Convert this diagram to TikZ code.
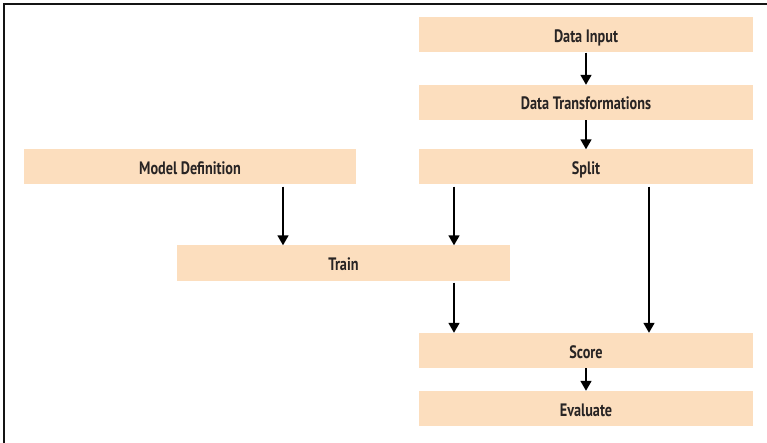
\documentclass[tikz,border=0pt]{standalone}
\usepackage{fontspec}
\setmainfont[FakeStretch=0.79]{PT Sans}
\usetikzlibrary{arrows.meta}
\definecolor{peach}{RGB}{252,222,190}
\definecolor{txt}{RGB}{40,36,36}
\tikzset{
  blk/.style={fill=peach, draw=none, minimum height=35pt, inner sep=0pt, text=txt,
    text height=12pt, text depth=0pt, font=\fontsize{18}{20}\selectfont\bfseries},
  arr/.style={line width=1.7pt, -{Triangle[width=11pt,length=10pt]}, black},
  frame/.style={line width=2.2pt, black!92}
}
\begin{document}
\begin{tikzpicture}[x=1pt,y=-1pt]
\useasboundingbox (0,0) rectangle (767,443);
\draw[frame] (4,443) -- (4,4) -- (767,4);
\node[blk, minimum width=334pt] (din) at (586,35) {\raisebox{-1.5pt}{Data Input}};
\node[blk, minimum width=334pt] (dt) at (586,102.5) {\raisebox{-1.5pt}{Data Transformations}};
\node[blk, minimum width=334pt] (split) at (586,167) {\raisebox{-1.5pt}{Split}};
\node[blk, minimum width=332pt] (model) at (190,167) {\raisebox{-1.5pt}{Model Definition}};
\node[blk, minimum width=333pt] (train) at (343.5,263) {\raisebox{-1.5pt}{Train}};
\node[blk, minimum width=334pt] (score) at (586,350.5) {\raisebox{-1.5pt}{Score}};
\node[blk, minimum width=334pt] (eval) at (586,408.5) {\raisebox{-1.5pt}{Evaluate}};
\draw[arr] (din.south) -- (dt.north);
\draw[arr] (dt.south) -- (split.north);
\draw[arr] ([xshift=93pt,yshift=-2pt]model.south) -- ([xshift=-60.5pt]train.north);
\draw[arr] ([xshift=-132pt,yshift=-2pt]split.south) -- ([xshift=110.5pt]train.north);
\draw[arr] ([xshift=110.5pt,yshift=-2pt]train.south) -- ([xshift=-132pt]score.north);
\draw[arr] ([xshift=63pt,yshift=-2pt]split.south) -- ([xshift=63pt]score.north);
\draw[arr] (score.south) -- (eval.north);
\end{tikzpicture}
\end{document}
